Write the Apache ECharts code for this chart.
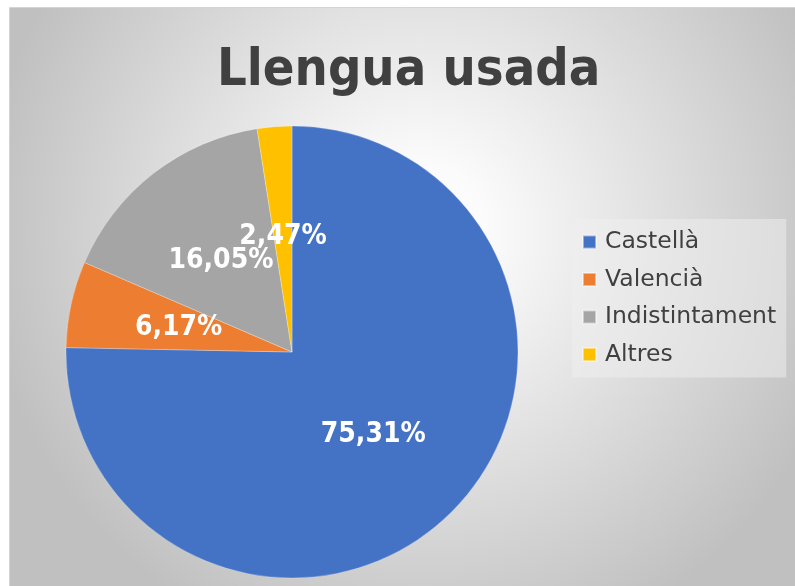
<!DOCTYPE html>
<html>
<head>
<meta charset="utf-8">
<script src="https://cdn.jsdelivr.net/npm/echarts@6/dist/echarts.min.js"></script>
<style>
html,body{margin:0;padding:0;background:#ffffff;}
#chart{width:795px;height:586px;}
</style>
</head>
<body>
<div id="chart"></div>
<script>
const titleText = 'Llengua usada';
const categories = ['Castellà', 'Valencià', 'Indistintament', 'Altres'];
const values = [61, 5, 13, 2];
const colors = ['#4472C4', '#ED7D31', '#A5A5A5', '#FFC000'];

const chart = echarts.init(document.getElementById('chart'), null, {renderer: 'canvas'});
const option = {
  animation: false,
  graphic: [{
    type: 'rect',
    z: -10,
    silent: true,
    shape: {x: 9.5, y: 7.5, width: 800, height: 600},
    style: {
      fill: new echarts.graphic.RadialGradient(420, 230, 440, [
        {offset: 0, color: '#ffffff'},
        {offset: 0.15, color: '#fbfbfb'},
        {offset: 1, color: '#c0c0c0'}
      ], true),
      stroke: '#d4d4d4',
      lineWidth: 1
    }
  }],
  title: {
    text: titleText,
    left: 212,
    top: 40,
    padding: 5,
    textStyle: {
      fontFamily: 'DejaVu Sans Condensed',
      fontWeight: 'bold',
      fontSize: 52,
      color: '#404040'
    }
  },
  legend: {
    orient: 'vertical',
    left: 572,
    top: 219,
    width: 218,
    padding: [11, 10, 11, 10],
    backgroundColor: 'rgba(240,240,240,0.5)',
    itemWidth: 13,
    itemHeight: 13,
    itemGap: 13.5,
    icon: 'rect',
    data: categories,
    textStyle: {
      fontFamily: 'DejaVu Sans',
      fontSize: 23.5,
      color: '#404040',
      padding: [0, 0, 0, 4]
    }
  },
  series: [{
    type: 'pie',
    center: [292, 352],
    radius: [0, 226],
    startAngle: 90,
    clockwise: true,
    avoidLabelOverlap: false,
    minShowLabelAngle: 0,
    labelLayout: {hideOverlap: false},
    data: categories.map((c, i) => ({name: c, value: values[i], itemStyle: {color: colors[i]}})),
    itemStyle: {borderColor: 'rgba(255,255,255,0.45)', borderWidth: 0.6},
    label: {
      show: true,
      position: 'inside',
      formatter: p => p.percent.toFixed(2).replace('.', ',') + '%',
      fontFamily: 'DejaVu Sans Condensed',
      fontWeight: 'bold',
      fontSize: 28,
      color: '#ffffff'
    },
    labelLine: {show: false},
    emphasis: {disabled: true}
  }]
};
chart.setOption(option);
</script>
</body>
</html>
